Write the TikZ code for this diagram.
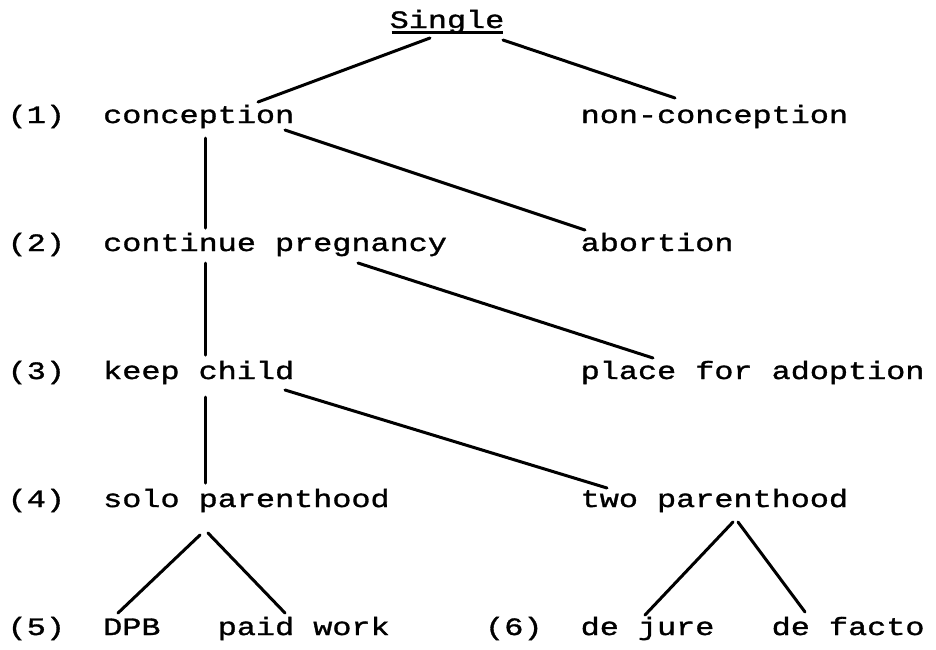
\documentclass[tikz,border=0pt]{standalone}
\usepackage{fontspec}
\usetikzlibrary{calc}
\newfontfamily\twfont[FakeStretch=1.273,FakeBold=1.3]{Liberation Mono}
\begin{document}
\begin{tikzpicture}[x=1pt,y=-1pt,
  lbl/.style={anchor=base west,inner sep=0pt,font=\twfont\fontsize{25}{30}\selectfont},
  link/.style={line width=3pt,line cap=round}]
\useasboundingbox[fill=white] (0,0) rectangle (936,649);
% title
\node[lbl] (single) at (389.5,28) {Single};
% level labels
\node[lbl] (l1) at (7.5,123) {(1)};
\node[lbl] (l2) at (7.5,251) {(2)};
\node[lbl] (l3) at (7.5,379) {(3)};
\node[lbl] (l4) at (7.5,507) {(4)};
\node[lbl] (l5) at (7.5,635) {(5)};
\node[lbl] (l6) at (485,635) {(6)};
% tree nodes
\node[lbl] (conc)  at (103,123)   {conception};
\node[lbl] (nonc)  at (580.5,123) {non-conception};
\node[lbl] (cont)  at (103,251)   {continue pregnancy};
\node[lbl] (abort) at (580.5,251) {abortion};
\node[lbl] (keep)  at (103,379)   {keep child};
\node[lbl] (place) at (580.5,379) {place for adoption};
\node[lbl] (solo)  at (103,507)   {solo parenthood};
\node[lbl] (two)   at (580.5,507) {two parenthood};
\node[lbl] (dpb)   at (103,635)   {DPB};
\node[lbl] (paid)  at (217.6,635) {paid work};
\node[lbl] (jure)  at (580.5,635) {de jure};
\node[lbl] (facto) at (771.5,635) {de facto};
% underline of title
\draw[line width=3pt] ($(single.base west)+(2,4.5)$) -- ($(single.base east)+(-1,4.5)$);
% connectors
\draw[link] ($(single.base west)+(40.5,10)$) -- ($(conc.base west)+(155,-21)$);
\draw[link] ($(single.base west)+(113.5,12)$) -- ($(nonc.base west)+(94.5,-25)$);
\draw[link] ($(conc.base west)+(102,15)$) -- ($(cont.base west)+(102,-23)$);
\draw[link] ($(conc.base west)+(182,7)$) -- ($(abort.base west)+(4.5,-21)$);
\draw[link] ($(cont.base west)+(102,12)$) -- ($(keep.base west)+(102,-24)$);
\draw[link] ($(cont.base west)+(255,12)$) -- ($(place.base west)+(72.5,-21)$);
\draw[link] ($(keep.base west)+(102,18)$) -- ($(solo.base west)+(102,-24)$);
\draw[link] ($(keep.base west)+(182,11)$) -- ($(two.base west)+(26.5,-19)$);
\draw[link] ($(solo.base west)+(97,28)$) -- ($(dpb.base west)+(15,-22)$);
\draw[link] ($(solo.base west)+(105,26)$) -- ($(paid.base west)+(67.4,-22)$);
\draw[link] ($(two.base west)+(152.5,15)$) -- ($(jure.base west)+(64.5,-20)$);
\draw[link] ($(two.base west)+(157.5,15)$) -- ($(facto.base west)+(33.5,-23)$);
\end{tikzpicture}
\end{document}
